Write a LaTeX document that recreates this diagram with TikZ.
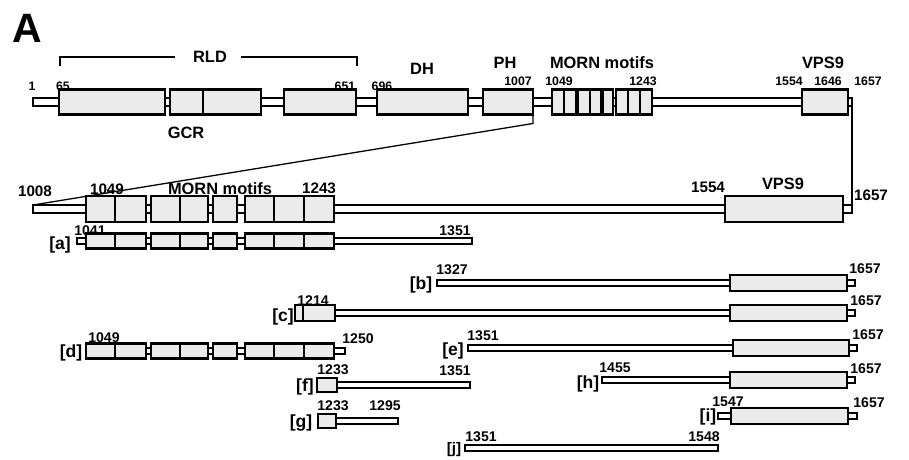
\documentclass[tikz,border=0pt]{standalone}
\usepackage{fontspec}
\setmainfont{Liberation Sans}
\usetikzlibrary{positioning}

% thin strand and domain box, in pixel units
\newcommand\strand[4]{\draw[bar] (#1,#3-#4) rectangle (#2,#3+#4);}
\newcommand\dombox[4]{\draw[dom] (#1,#3-#4) rectangle (#2,#3+#4);}
% the eight MORN repeats of the zoomed view
\newcommand\mornset[2]{%
  \foreach \a/\b in {86/146,151/208,213/237,245/334} {\dombox{\a}{\b}{#1}{#2}}
  \foreach \d in {115,180,274,304} {\draw[msep] (\d,#1-#2) -- (\d,#1+#2);}}

\begin{document}
\begin{tikzpicture}[x=0.03cm, y=-0.03cm,
  bar/.style={draw, line width=1.2pt, fill=white},
  dom/.style={draw, line width=2pt, fill=gray!16},
  msep/.style={line width=1.4pt},
  link/.style={line width=1.1pt},
  num/.style={font=\fontsize{10.5}{12}\selectfont\bfseries, inner sep=0pt},
  bignum/.style={font=\fontsize{13}{15}\selectfont\bfseries, inner sep=0pt},
  fnum/.style={font=\fontsize{12}{14}\selectfont\bfseries, inner sep=0pt},
  dname/.style={font=\fontsize{14}{16}\selectfont\bfseries, inner sep=0pt},
  tag/.style={font=\fontsize{15}{17}\selectfont\bfseries, inner sep=0pt}]
\useasboundingbox (0,0) rectangle (909,460);

\node[font=\fontsize{35}{37}\selectfont\bfseries, inner sep=0pt] (panel) at (27,28) {A};

% full length protein
\strand{33}{852}{102}{4}
\foreach \a/\b in {59/165,170/203,203/261,284/356,377/468,483/533,802/848} {\dombox{\a}{\b}{102}{12.5}}
\foreach \a/\b in {552/576,578/601,603/613,616/652} {\dombox{\a}{\b}{102}{12.5}}
\foreach \d in {564,590,628,640} {\draw[msep] (\d,89.5) -- (\d,114.5);}

\node[dname] (rld) at (210,57) {RLD};
\coordinate (rlda) at (60,66);
\coordinate (rldb) at (357,66);
\draw[link] (rlda) |- ([xshift=-15pt]rld.west);
\draw[link] (rldb) |- ([xshift=12pt]rld.east);
\node[dname] (gcr) at (186,133) {GCR};
\node[dname] (dh) at (422,69) {DH};
\node[dname] (ph) at (505,63) {PH};
\node[dname] (morn) at (602,63) {MORN motifs};
\node[dname] (vps) at (823,63) {VPS9};
\node[num] (n1) at (32,86) {1};
\node[num] (n65) at (63,86) {65};
\node[num] (n651) at (345,86) {651};
\node[num] (n696) at (382,86) {696};
\node[num] (n1007) at (518,81) {1007};
\node[num] (n1049) at (559,81) {1049};
\node[num] (n1243) at (643,81) {1243};
\node[num] (n1554) at (789,81) {1554};
\node[num] (n1646) at (828,81) {1646};
\node[num] (n1657) at (868,81) {1657};

% zoomed C-terminal part
\strand{33}{852}{209}{4}
\mornset{209}{13}
\dombox{725}{843}{209}{13}
\node[bignum] (z1008) at (35,191) {1008};
\node[bignum] (z1049) at (107,189) {1049};
\node[dname] (zmorn) at (220,189) {MORN motifs};
\node[bignum] (z1243) at (319,188) {1243};
\node[bignum] (z1554) at (708,187) {1554};
\node[dname] (zvps) at (783,184) {VPS9};
\node[bignum] (z1657) at (871,195) {1657};

\coordinate (phc) at (533,114.5);
\coordinate (zl) at (33,205);
\coordinate (ctop) at (852,98);
\coordinate (zr) at (852,205);
\draw[link] (phc) -- ++(0,9) -- (zl);
\draw[link] (ctop) -- (zr);

% fragments
\strand{77}{472}{241}{3}
\mornset{241}{7.5}
\node[tag] (ta) at (60,245) {[a]};
\node[fnum] (a1) at (90,231) {1041};
\node[fnum] (a2) at (455,231) {1351};

\strand{437}{855}{283}{3}
\dombox{730}{847}{283}{8}
\node[tag] (tb) at (421,285) {[b]};
\node[fnum] (b1) at (452,270) {1327};
\node[fnum] (b2) at (865,269) {1657};

\strand{335}{855}{313}{3}
\dombox{295}{335}{313}{8}
\draw[msep] (303,305) -- (303,321);
\dombox{730}{847}{313}{8}
\node[tag] (tc) at (283,317) {[c]};
\node[fnum] (c1) at (313,301) {1214};
\node[fnum] (c2) at (866,301) {1657};

\strand{86}{345}{351}{3}
\mornset{351}{7.5}
\node[tag] (td) at (71,353) {[d]};
\node[fnum] (d1) at (104,338) {1049};
\node[fnum] (d2) at (358,339) {1250};

\strand{468}{857}{348}{3}
\dombox{733}{849}{348}{8}
\node[tag] (te) at (453,351) {[e]};
\node[fnum] (e1) at (483,336) {1351};
\node[fnum] (e2) at (868,335) {1657};

\strand{337}{470}{385}{3}
\dombox{317}{337}{385}{7}
\node[tag] (tf) at (305,387) {[f]};
\node[fnum] (f1) at (333,370) {1233};
\node[fnum] (f2) at (455,371) {1351};

\strand{336}{398}{421}{3}
\dombox{318}{336}{421}{7}
\node[tag] (tg) at (301,423) {[g]};
\node[fnum] (g1) at (333,406) {1233};
\node[fnum] (g2) at (385,406) {1295};

\strand{602}{855}{380}{3}
\dombox{730}{847}{380}{8}
\node[tag] (th) at (588,384) {[h]};
\node[fnum] (h1) at (615,368) {1455};
\node[fnum] (h2) at (866,369) {1657};

\strand{718}{857}{416}{3}
\dombox{731}{848}{416}{8}
\node[tag] (ti) at (708,417) {[i]};
\node[fnum] (i1) at (728,402) {1547};
\node[fnum] (i2) at (869,403) {1657};

\strand{465}{718}{448}{3}
\node[font=\fontsize{13}{15}\selectfont\bfseries, inner sep=0pt] (tj) at (454,450) {[j]};
\node[fnum] (j1) at (481,437) {1351};
\node[fnum] (j2) at (704,437) {1548};
\end{tikzpicture}
\end{document}
